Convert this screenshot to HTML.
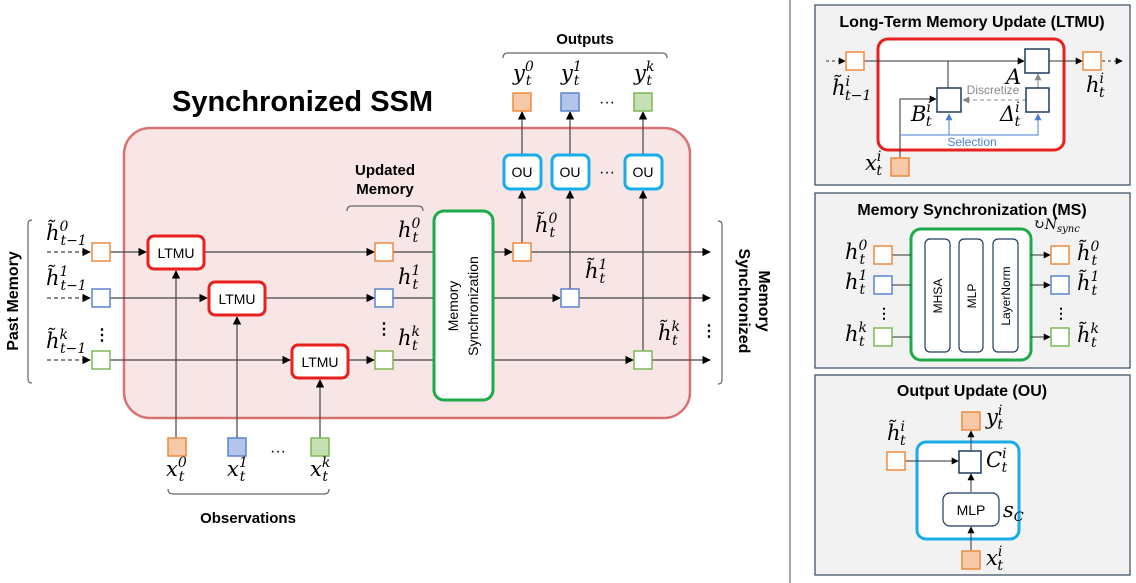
<!DOCTYPE html>
<html><head><meta charset="utf-8"><style>
html,body{margin:0;padding:0;background:#fff;}
svg{display:block;}
.b{font-family:"Liberation Sans",sans-serif;font-weight:bold;fill:#000;}
.s{font-family:"Liberation Sans",sans-serif;fill:#000;}
.m{font-family:"DejaVu Serif","Liberation Serif",serif;font-style:italic;fill:#000;}
</style></head><body>
<svg width="1136" height="583" viewBox="0 0 1136 583" xmlns="http://www.w3.org/2000/svg">
<defs>
<marker id="a" viewBox="0 0 10 10" refX="9" refY="5" markerWidth="7" markerHeight="7" orient="auto-start-reverse"><path d="M0,0L10,5L0,10z" fill="#000"/></marker>
<marker id="g" viewBox="0 0 10 10" refX="9" refY="5" markerWidth="7" markerHeight="7" orient="auto"><path d="M0,0L10,5L0,10z" fill="#888"/></marker>
<marker id="bl" viewBox="0 0 10 10" refX="9" refY="5" markerWidth="7" markerHeight="7" orient="auto"><path d="M0,0L10,5L0,10z" fill="#4a7fd0"/></marker>
</defs>

<rect x="124" y="128" width="566" height="290" rx="26" fill="#f7e6e5" stroke="#d97272" stroke-width="2.5"/>
<text x="172" y="111" class="b" font-size="29">Synchronized SSM</text>

<g stroke="#444" stroke-width="1.2" fill="none">
<line x1="47" y1="252" x2="90" y2="252" stroke-dasharray="4,3" marker-end="url(#a)"/>
<line x1="47" y1="298" x2="90" y2="298" stroke-dasharray="4,3" marker-end="url(#a)"/>
<line x1="47" y1="360" x2="90" y2="360" stroke-dasharray="4,3" marker-end="url(#a)"/>
<line x1="110" y1="252" x2="146" y2="252" marker-end="url(#a)"/>
<line x1="204" y1="252" x2="374" y2="252" marker-end="url(#a)"/>
<line x1="110" y1="298" x2="207" y2="298" marker-end="url(#a)"/>
<line x1="265" y1="298" x2="374" y2="298" marker-end="url(#a)"/>
<line x1="110" y1="360" x2="290" y2="360" marker-end="url(#a)"/>
<line x1="348" y1="360" x2="374" y2="360" marker-end="url(#a)"/>
<line x1="393" y1="252" x2="433" y2="252"/>
<line x1="393" y1="298" x2="433" y2="298"/>
<line x1="393" y1="360" x2="433" y2="360"/>
<line x1="493" y1="252" x2="512" y2="252" marker-end="url(#a)"/>
<line x1="493" y1="298" x2="560" y2="298" marker-end="url(#a)"/>
<line x1="493" y1="360" x2="633" y2="360" marker-end="url(#a)"/>
<line x1="531" y1="252" x2="710" y2="252" marker-end="url(#a)"/>
<line x1="579" y1="298" x2="710" y2="298" marker-end="url(#a)"/>
<line x1="652" y1="360" x2="710" y2="360" marker-end="url(#a)"/>
<line x1="176" y1="438" x2="176" y2="271" marker-end="url(#a)"/>
<line x1="237" y1="438" x2="237" y2="317" marker-end="url(#a)"/>
<line x1="320" y1="438" x2="320" y2="380" marker-end="url(#a)"/>
<line x1="522" y1="243" x2="522" y2="191" marker-end="url(#a)"/>
<line x1="570" y1="289" x2="570" y2="191" marker-end="url(#a)"/>
<line x1="643" y1="351" x2="643" y2="191" marker-end="url(#a)"/>
<line x1="522" y1="154" x2="522" y2="112" marker-end="url(#a)"/>
<line x1="570" y1="154" x2="570" y2="112" marker-end="url(#a)"/>
<line x1="643" y1="154" x2="643" y2="112" marker-end="url(#a)"/>
</g>

<g stroke-width="1.5">
<rect x="92" y="243" width="18" height="18" fill="#fff" stroke="#ef8a3c"/>
<rect x="92" y="289" width="18" height="18" fill="#fff" stroke="#5b84d0"/>
<rect x="92" y="351" width="18" height="18" fill="#fff" stroke="#7cb955"/>
<rect x="375" y="243" width="18" height="18" fill="#fff" stroke="#ef8a3c"/>
<rect x="375" y="289" width="18" height="18" fill="#fff" stroke="#5b84d0"/>
<rect x="375" y="351" width="18" height="18" fill="#fff" stroke="#7cb955"/>
<rect x="513" y="243" width="18" height="18" fill="#fff" stroke="#ef8a3c"/>
<rect x="561" y="289" width="18" height="18" fill="#fff" stroke="#5b84d0"/>
<rect x="634" y="351" width="18" height="18" fill="#fff" stroke="#7cb955"/>
<rect x="513" y="93" width="18" height="18" fill="#f8c9a8" stroke="#ef8a3c"/>
<rect x="561" y="93" width="18" height="18" fill="#b3c5ea" stroke="#5b84d0"/>
<rect x="634" y="93" width="18" height="18" fill="#c6e0b3" stroke="#7cb955"/>
<rect x="168" y="438" width="18" height="18" fill="#f8c9a8" stroke="#ef8a3c"/>
<rect x="228" y="438" width="18" height="18" fill="#b3c5ea" stroke="#5b84d0"/>
<rect x="311" y="438" width="18" height="18" fill="#c6e0b3" stroke="#7cb955"/>
</g>

<g fill="#fff" stroke="#e8201e" stroke-width="3">
<rect x="148" y="236" width="56" height="33" rx="6"/>
<rect x="209" y="282" width="56" height="33" rx="6"/>
<rect x="292" y="345" width="56" height="33" rx="6"/>
</g>
<g class="s" font-size="14" text-anchor="middle">
<text x="176" y="258">LTMU</text><text x="237" y="304">LTMU</text><text x="320" y="367">LTMU</text>
</g>
<rect x="434" y="211" width="59" height="189" rx="10" fill="#fff" stroke="#1eaa4a" stroke-width="3"/>
<text transform="translate(458,306) rotate(-90)" class="s" font-size="14" text-anchor="middle">Memory</text>
<text transform="translate(478,306) rotate(-90)" class="s" font-size="14" text-anchor="middle">Synchronization</text>
<g fill="#fff" stroke="#18ace8" stroke-width="3">
<rect x="504" y="155" width="37" height="34" rx="6"/>
<rect x="552" y="155" width="37" height="34" rx="6"/>
<rect x="625" y="155" width="37" height="34" rx="6"/>
</g>
<g class="s" font-size="14" text-anchor="middle">
<text x="522" y="177">OU</text><text x="570" y="177">OU</text><text x="643" y="177">OU</text>
</g>
<g class="s" font-size="16" text-anchor="middle"><text x="607" y="177">···</text><text x="607" y="107">···</text><text x="278" y="456">···</text></g>
<g class="b" font-size="16" text-anchor="middle"><text x="102" y="340">⋮</text><text x="384" y="334">⋮</text><text x="709" y="336">⋮</text></g>

<g class="m" font-size="21">
<text x="46" y="240">h̃<tspan font-size="14" dy="-9">0</tspan><tspan font-size="14" dx="-8" dy="14">t−1</tspan></text>
<text x="46" y="285">h̃<tspan font-size="14" dy="-9">1</tspan><tspan font-size="14" dx="-8" dy="14">t−1</tspan></text>
<text x="46" y="348">h̃<tspan font-size="14" dy="-9">k</tspan><tspan font-size="14" dx="-8" dy="14">t−1</tspan></text>
<text x="398" y="237">h<tspan font-size="14" dy="-9">0</tspan><tspan font-size="14" dx="-8" dy="14">t</tspan></text>
<text x="398" y="284">h<tspan font-size="14" dy="-9">1</tspan><tspan font-size="14" dx="-8" dy="14">t</tspan></text>
<text x="398" y="345">h<tspan font-size="14" dy="-9">k</tspan><tspan font-size="14" dx="-8" dy="14">t</tspan></text>
<text x="535" y="232">h̃<tspan font-size="14" dy="-9">0</tspan><tspan font-size="14" dx="-8" dy="14">t</tspan></text>
<text x="585" y="278">h̃<tspan font-size="14" dy="-9">1</tspan><tspan font-size="14" dx="-8" dy="14">t</tspan></text>
<text x="658" y="340">h̃<tspan font-size="14" dy="-9">k</tspan><tspan font-size="14" dx="-8" dy="14">t</tspan></text>
<text x="513" y="80">y<tspan font-size="14" dy="-9">0</tspan><tspan font-size="14" dx="-8" dy="14">t</tspan></text>
<text x="561" y="80">y<tspan font-size="14" dy="-9">1</tspan><tspan font-size="14" dx="-8" dy="14">t</tspan></text>
<text x="634" y="80">y<tspan font-size="14" dy="-9">k</tspan><tspan font-size="14" dx="-8" dy="14">t</tspan></text>
<text x="166" y="476">x<tspan font-size="14" dy="-9">0</tspan><tspan font-size="14" dx="-8" dy="14">t</tspan></text>
<text x="227" y="476">x<tspan font-size="14" dy="-9">1</tspan><tspan font-size="14" dx="-8" dy="14">t</tspan></text>
<text x="310" y="476">x<tspan font-size="14" dy="-9">k</tspan><tspan font-size="14" dx="-8" dy="14">t</tspan></text>
</g>

<g stroke="#666" stroke-width="1.2" fill="none">
<path d="M32,220 Q28,220 28,224 L28,379 Q28,383 32,383"/>
<path d="M718,221 Q722,221 722,225 L722,380 Q722,384 718,384"/>
<path d="M347,211 Q347,206 352,206 L418,206 Q423,206 423,211"/>
<path d="M503,58 Q503,53 508,53 L662,53 Q667,53 667,58"/>
<path d="M168,489 Q168,494 173,494 L324,494 Q329,494 329,489"/>
</g>
<text x="385" y="175" class="b" font-size="15" text-anchor="middle">Updated</text>
<text x="385" y="194" class="b" font-size="15" text-anchor="middle">Memory</text>
<text x="585" y="44" class="b" font-size="15" text-anchor="middle">Outputs</text>
<text x="248" y="523" class="b" font-size="15" text-anchor="middle">Observations</text>
<text transform="translate(18,301) rotate(-90)" class="b" font-size="16" text-anchor="middle">Past Memory</text>
<text transform="translate(739,301) rotate(90)" class="b" font-size="16" text-anchor="middle">Synchronized</text>
<text transform="translate(759,301) rotate(90)" class="b" font-size="16" text-anchor="middle">Memory</text>

<line x1="790" y1="0" x2="790" y2="583" stroke="#555" stroke-width="1"/>

<rect x="815" y="5" width="315" height="180" fill="#f2f2f2" stroke="#44546a" stroke-width="1.3"/>
<text x="972" y="27" class="b" font-size="16" text-anchor="middle">Long-Term Memory Update (LTMU)</text>
<rect x="878" y="39" width="186" height="111" rx="10" fill="#fff" stroke="#e8201e" stroke-width="3"/>
<g stroke="#333" stroke-width="1" fill="none">
<line x1="826" y1="61" x2="845" y2="61" stroke-dasharray="3,3" marker-end="url(#a)"/>
<line x1="864" y1="61" x2="1024" y2="61" marker-end="url(#a)"/>
<line x1="948" y1="61" x2="948" y2="88"/>
<line x1="1049" y1="61" x2="1082" y2="61" marker-end="url(#a)"/>
<line x1="1102" y1="61" x2="1122" y2="61" stroke-dasharray="3,3" marker-end="url(#a)"/>
<polyline points="900,158 900,99 936,99" marker-end="url(#a)"/>
</g>
<line x1="1038" y1="88" x2="1038" y2="74" stroke="#888" marker-end="url(#g)"/>
<line x1="1026" y1="100" x2="963" y2="100" stroke="#888" stroke-dasharray="4,3" marker-end="url(#g)"/>
<g stroke="#4a7fd0" stroke-width="1" fill="none">
<polyline points="900,135 1038,135 1038,114" marker-end="url(#bl)"/>
<line x1="949" y1="135" x2="949" y2="114" marker-end="url(#bl)"/>
</g>
<g fill="#fff" stroke="#1f3a5f" stroke-width="1.5">
<rect x="1025" y="49" width="24" height="24"/>
<rect x="937" y="88" width="24" height="24"/>
<rect x="1026" y="88" width="23" height="24"/>
</g>
<rect x="846" y="52" width="18" height="18" fill="#fff" stroke="#ef8a3c" stroke-width="1.5"/>
<rect x="1083" y="52" width="18" height="18" fill="#fff" stroke="#ef8a3c" stroke-width="1.5"/>
<rect x="891" y="158" width="18" height="18" fill="#f8c9a8" stroke="#ef8a3c" stroke-width="1.5"/>
<text x="993" y="94" class="s" font-size="12" style="fill:#888" text-anchor="middle">Discretize</text>
<text x="972" y="146" class="s" font-size="12" style="fill:#4a7fd0" text-anchor="middle">Selection</text>
<g class="m" font-size="21">
<text x="1006" y="84">A</text>
<text x="832" y="95">h̃<tspan font-size="14" dy="-9">i</tspan><tspan font-size="14" dx="-5" dy="14">t−1</tspan></text>
<text x="911" y="121">B<tspan font-size="14" dy="-9">i</tspan><tspan font-size="14" dx="-5" dy="14">t</tspan></text>
<text x="1000" y="121">Δ<tspan font-size="14" dy="-9">i</tspan><tspan font-size="14" dx="-5" dy="14">t</tspan></text>
<text x="1086" y="92">h<tspan font-size="14" dy="-9">i</tspan><tspan font-size="14" dx="-5" dy="14">t</tspan></text>
<text x="865" y="170">x<tspan font-size="14" dy="-9">i</tspan><tspan font-size="14" dx="-5" dy="14">t</tspan></text>
</g>

<rect x="815" y="193" width="315" height="175" fill="#f2f2f2" stroke="#44546a" stroke-width="1.3"/>
<text x="972" y="215" class="b" font-size="16" text-anchor="middle">Memory Synchronization (MS)</text>
<rect x="911" y="229" width="120" height="131" rx="10" fill="#fff" stroke="#1eaa4a" stroke-width="3"/>
<g fill="#fff" stroke="#1f3a5f" stroke-width="1.2">
<rect x="925" y="239" width="25" height="113" rx="5"/>
<rect x="959" y="239" width="24" height="113" rx="5"/>
<rect x="993" y="239" width="25" height="113" rx="5"/>
</g>
<g class="s" font-size="12" text-anchor="middle">
<text transform="translate(942,296) rotate(-90)">MHSA</text>
<text transform="translate(976,296) rotate(-90)">MLP</text>
<text transform="translate(1010,296) rotate(-90)">LayerNorm</text>
</g>
<g stroke="#333" stroke-width="1">
<line x1="892" y1="255" x2="911" y2="255"/><line x1="892" y1="285" x2="911" y2="285"/><line x1="892" y1="337" x2="911" y2="337"/>
<line x1="1031" y1="255" x2="1050" y2="255" marker-end="url(#a)"/><line x1="1031" y1="285" x2="1050" y2="285" marker-end="url(#a)"/><line x1="1031" y1="337" x2="1050" y2="337" marker-end="url(#a)"/>
</g>
<g stroke-width="1.5" fill="#fff">
<rect x="874" y="246" width="18" height="18" stroke="#ef8a3c"/><rect x="874" y="276" width="18" height="18" stroke="#5b84d0"/><rect x="874" y="328" width="18" height="18" stroke="#7cb955"/>
<rect x="1051" y="246" width="18" height="18" stroke="#ef8a3c"/><rect x="1051" y="276" width="18" height="18" stroke="#5b84d0"/><rect x="1051" y="328" width="18" height="18" stroke="#7cb955"/>
</g>
<g class="b" font-size="14" text-anchor="middle"><text x="884" y="318">⋮</text><text x="1061" y="318">⋮</text></g>
<g class="m" font-size="21">
<text x="845" y="259">h<tspan font-size="14" dy="-9">0</tspan><tspan font-size="14" dx="-8" dy="14">t</tspan></text>
<text x="845" y="289">h<tspan font-size="14" dy="-9">1</tspan><tspan font-size="14" dx="-8" dy="14">t</tspan></text>
<text x="845" y="341">h<tspan font-size="14" dy="-9">k</tspan><tspan font-size="14" dx="-8" dy="14">t</tspan></text>
<text x="1077" y="260">h̃<tspan font-size="14" dy="-9">0</tspan><tspan font-size="14" dx="-8" dy="14">t</tspan></text>
<text x="1077" y="290">h̃<tspan font-size="14" dy="-9">1</tspan><tspan font-size="14" dx="-8" dy="14">t</tspan></text>
<text x="1077" y="342">h̃<tspan font-size="14" dy="-9">k</tspan><tspan font-size="14" dx="-8" dy="14">t</tspan></text>
<text x="1033" y="229" font-size="14">↻N<tspan font-size="10" dy="3">sync</tspan></text>
</g>

<rect x="815" y="375" width="315" height="200" fill="#f2f2f2" stroke="#44546a" stroke-width="1.3"/>
<text x="972" y="396" class="b" font-size="16" text-anchor="middle">Output Update (OU)</text>
<rect x="917" y="442" width="102" height="97" rx="9" fill="#fff" stroke="#18ace8" stroke-width="3"/>
<g stroke="#333" stroke-width="1" fill="none">
<line x1="905" y1="461" x2="958" y2="461" marker-end="url(#a)"/>
<line x1="971" y1="550" x2="971" y2="527" marker-end="url(#a)"/>
<line x1="971" y1="492" x2="971" y2="474" marker-end="url(#a)"/>
<line x1="971" y1="451" x2="971" y2="431" marker-end="url(#a)"/>
</g>
<rect x="959" y="451" width="22" height="22" fill="#fff" stroke="#1f3a5f" stroke-width="1.5"/>
<rect x="943" y="493" width="56" height="33" rx="7" fill="#fff" stroke="#1f3a5f" stroke-width="1.2"/>
<text x="971" y="515" class="s" font-size="14" text-anchor="middle">MLP</text>
<rect x="887" y="452" width="18" height="18" fill="#fff" stroke="#ef8a3c" stroke-width="1.5"/>
<rect x="962" y="412" width="18" height="18" fill="#f8c9a8" stroke="#ef8a3c" stroke-width="1.5"/>
<rect x="962" y="551" width="18" height="18" fill="#f8c9a8" stroke="#ef8a3c" stroke-width="1.5"/>
<g class="m" font-size="21">
<text x="887" y="440">h̃<tspan font-size="14" dy="-9">i</tspan><tspan font-size="14" dx="-5" dy="14">t</tspan></text>
<text x="986" y="424">y<tspan font-size="14" dy="-9">i</tspan><tspan font-size="14" dx="-5" dy="14">t</tspan></text>
<text x="986" y="467">C<tspan font-size="14" dy="-9">i</tspan><tspan font-size="14" dx="-5" dy="14">t</tspan></text>
<text x="1003" y="517">s<tspan font-size="13" dy="4">C</tspan></text>
<text x="986" y="565">x<tspan font-size="14" dy="-9">i</tspan><tspan font-size="14" dx="-5" dy="14">t</tspan></text>
</g>
</svg>
</body></html>
